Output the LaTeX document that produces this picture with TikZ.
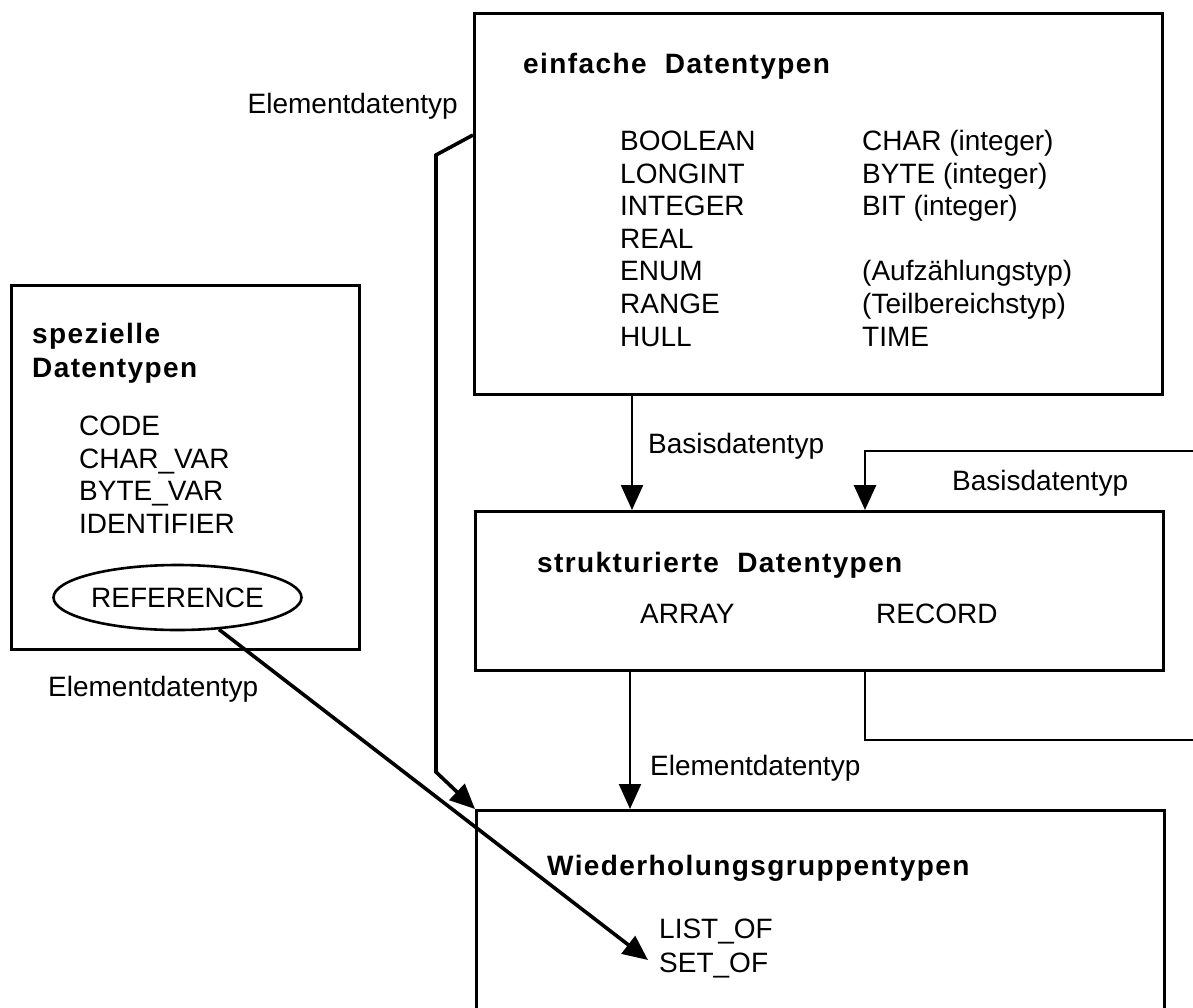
\documentclass[tikz,border=0pt]{standalone}
\usepackage{fontspec}
\setmainfont{Liberation Sans}
\newfontfamily\ttlfont[LetterSpace=5]{Liberation Sans}
\usetikzlibrary{arrows.meta,shapes.geometric}

\tikzset{
  typebox/.style={draw, line width=3pt, inner sep=0pt, anchor=north west},
  txt/.style={font=\fontsize{28}{33}\selectfont, inner sep=0pt, anchor=base west},
  ttl/.style={font=\ttlfont\bfseries\fontsize{28}{33}\selectfont, inner sep=0pt, anchor=base west},
  conn/.style={line width=2.2pt, line join=miter},
  heavy/.style={line width=3.6pt, line join=miter},
  tip/.style={-{Triangle[length=25pt,width=22pt]}},
}

\begin{document}
\begin{tikzpicture}[x=1pt,y=-1pt]
\useasboundingbox (0,0) rectangle (1193,1007);
\fill[white] (0,0) rectangle (1193,1007);

% ---- boxes ----
\node[typebox, minimum width=688pt, minimum height=381pt] (einf) at (473,12) {};
\node[typebox, minimum width=348pt, minimum height=364pt] (spez) at (10,284) {};
\node[typebox, minimum width=688pt, minimum height=159pt] (strukt) at (474,510) {};
\node[typebox, minimum width=688pt, minimum height=215pt] (wied) at (475,809) {};

% ---- einfache Datentypen ----
\node[ttl] (t1) at (523,73) {einfache~~Datentypen};
\node[txt] (e1) at (620,150) {BOOLEAN};
\node[txt] (e2) at (620,183) {LONGINT};
\node[txt] (e3) at (620,215.5) {INTEGER};
\node[txt] (e4) at (620,248) {REAL};
\node[txt] (e5) at (620,280.5) {ENUM};
\node[txt] (e6) at (620,313) {RANGE};
\node[txt] (e7) at (620,346) {HULL};
\node[txt] (f1) at (862,150) {CHAR (integer)};
\node[txt] (f2) at (862,183) {BYTE (integer)};
\node[txt] (f3) at (862,215.5) {BIT (integer)};
\node[txt] (f5) at (862,280.5) {(Aufzählungstyp)};
\node[txt] (f6) at (862,313) {(Teilbereichstyp)};
\node[txt] (f7) at (862,346) {TIME};

% ---- spezielle Datentypen ----
\node[ttl] (t2a) at (32,343) {spezielle};
\node[ttl] (t2b) at (32,377) {Datentypen};
\node[txt] (s1) at (79,435) {CODE};
\node[txt] (s2) at (79,468) {CHAR\_VAR};
\node[txt] (s3) at (79,500) {BYTE\_VAR};
\node[txt] (s4) at (79,533) {IDENTIFIER};
\node[draw, ellipse, line width=2.6pt, inner sep=0pt, minimum width=248pt, minimum height=65pt,
      font=\fontsize{28}{33}\selectfont] (ref) at (177.5,597.5) {REFERENCE};

% ---- strukturierte Datentypen ----
\node[ttl] (t3) at (537,572) {strukturierte~~Datentypen};
\node[txt] (a1) at (640,623) {ARRAY};
\node[txt] (a2) at (876,623) {RECORD};

% ---- Wiederholungsgruppentypen ----
\node[ttl] (t4) at (547,875) {Wiederholungsgruppentypen};
\node[txt] (w1) at (659,938) {LIST\_OF};
\node[txt] (w2) at (659,972) {SET\_OF};

% ---- connector labels ----
\node[txt, anchor=base east] (l1) at (458,113) {Elementdatentyp};
\node[txt] (l2) at (48,696) {Elementdatentyp};
\node[txt] (l3) at (648,453) {Basisdatentyp};
\node[txt] (l4) at (952,490) {Basisdatentyp};
\node[txt] (l5) at (650,775) {Elementdatentyp};

% ---- helper coordinates for connector routes ----
\coordinate (bx) at (632,0);
\coordinate (lx) at (865,0);
\coordinate (ex) at (630,0);
\coordinate (loopin) at (1200,451);
\coordinate (loopout) at (1200,740);
\coordinate (k0) at (0,135);
\coordinate (k1) at (436,155);
\coordinate (k2) at (436,772);
\coordinate (reftip) at (648,960);

% ---- connectors ----
\draw[conn, tip] (einf.south -| bx) -- (strukt.north -| bx);
\draw[conn, line width=2.8pt, tip] (loopin) -| (strukt.north -| lx);
\draw[conn, line width=2.8pt] (strukt.south -| lx) |- (loopout);
\draw[conn, tip] (strukt.south -| ex) -- (wied.north -| ex);
\draw[heavy, tip] (einf.west |- k0) -- (k1) -- (k2) -- (wied.north west);
\draw[heavy, tip] (ref) -- (reftip);
\end{tikzpicture}
\end{document}
